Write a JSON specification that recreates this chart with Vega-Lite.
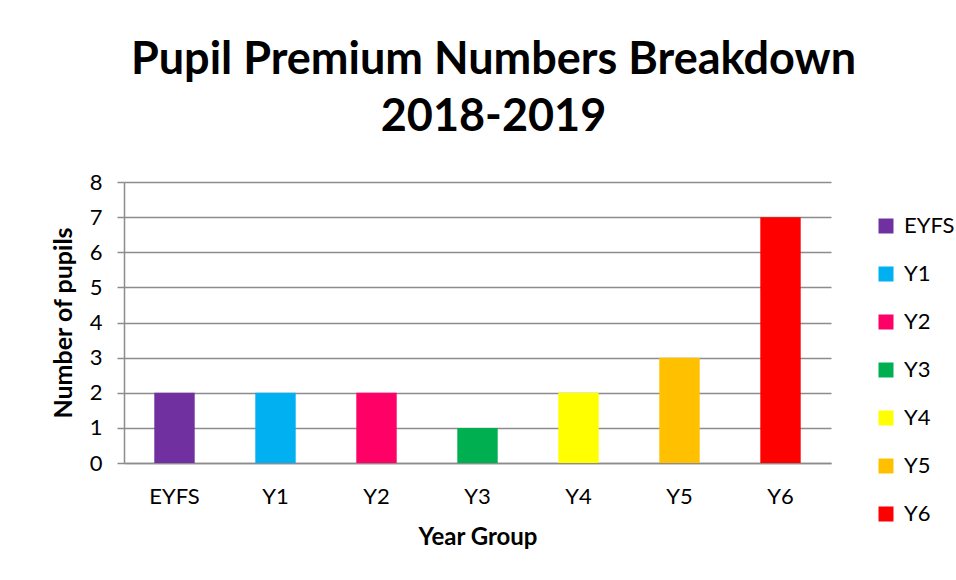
{
  "$schema": "https://vega.github.io/schema/vega-lite/v6.json",
  "autosize": {"type": "none"},
  "width": 707,
  "height": 281,
  "padding": {"left": 124, "top": 182, "right": 125, "bottom": 117},
  "background": "white",
  "title": {
    "text": ["Pupil Premium Numbers Breakdown", "2018-2019"],
    "font": "Lato",
    "fontSize": 45,
    "fontWeight": "bold",
    "color": "black",
    "lineHeight": 57,
    "anchor": "middle",
    "dx": 16,
    "offset": 31
  },
  "data": {
    "values": [
      {"group": "EYFS", "pupils": 2},
      {"group": "Y1", "pupils": 2},
      {"group": "Y2", "pupils": 2},
      {"group": "Y3", "pupils": 1},
      {"group": "Y4", "pupils": 2},
      {"group": "Y5", "pupils": 3},
      {"group": "Y6", "pupils": 7}
    ]
  },
  "mark": {"type": "bar"},
  "encoding": {
    "x": {
      "field": "group",
      "type": "nominal",
      "sort": null,
      "scale": {"paddingInner": 0.6, "paddingOuter": 0.3},
      "axis": {
        "title": "Year Group",
        "labelAngle": 0,
        "ticks": false,
        "labelPadding": 23,
        "titlePadding": 18,
        "titleFontSize": 24,
        "titleFontWeight": "bold"
      }
    },
    "y": {
      "field": "pupils",
      "type": "quantitative",
      "scale": {"domain": [0, 8], "nice": false},
      "axis": {
        "title": "Number of pupils",
        "values": [0, 1, 2, 3, 4, 5, 6, 7, 8],
        "labelOverlap": false,
        "tickSize": 7,
        "labelPadding": 15,
        "titlePadding": 13,
        "titleFontSize": 25,
        "titleFontWeight": "bold",
        "grid": true
      }
    },
    "color": {
      "field": "group",
      "type": "nominal",
      "sort": null,
      "scale": {
        "domain": ["EYFS", "Y1", "Y2", "Y3", "Y4", "Y5", "Y6"],
        "range": ["#7030A0", "#00B0F0", "#FF0066", "#00B050", "#FFFF00", "#FFC000", "#FF0000"]
      },
      "legend": {
        "title": null,
        "orient": "none",
        "legendX": 751,
        "legendY": 33,
        "symbolType": "square",
        "symbolSize": 225,
        "symbolStrokeWidth": 0,
        "labelFontSize": 22,
        "labelOffset": 7,
        "rowPadding": 26
      }
    }
  },
  "config": {
    "font": "Lato",
    "view": {"stroke": null},
    "axis": {
      "labelFont": "Lato",
      "titleFont": "Lato",
      "labelFontSize": 22,
      "labelColor": "black",
      "titleColor": "black",
      "domainColor": "#8c8c8c",
      "tickColor": "#8c8c8c",
      "gridColor": "#8c8c8c",
      "gridWidth": 1.5,
      "domainWidth": 1.5,
      "tickWidth": 1.5,
      "gridOpacity": 1
    },
    "legend": {"labelFont": "Lato", "labelColor": "black"}
  }
}
